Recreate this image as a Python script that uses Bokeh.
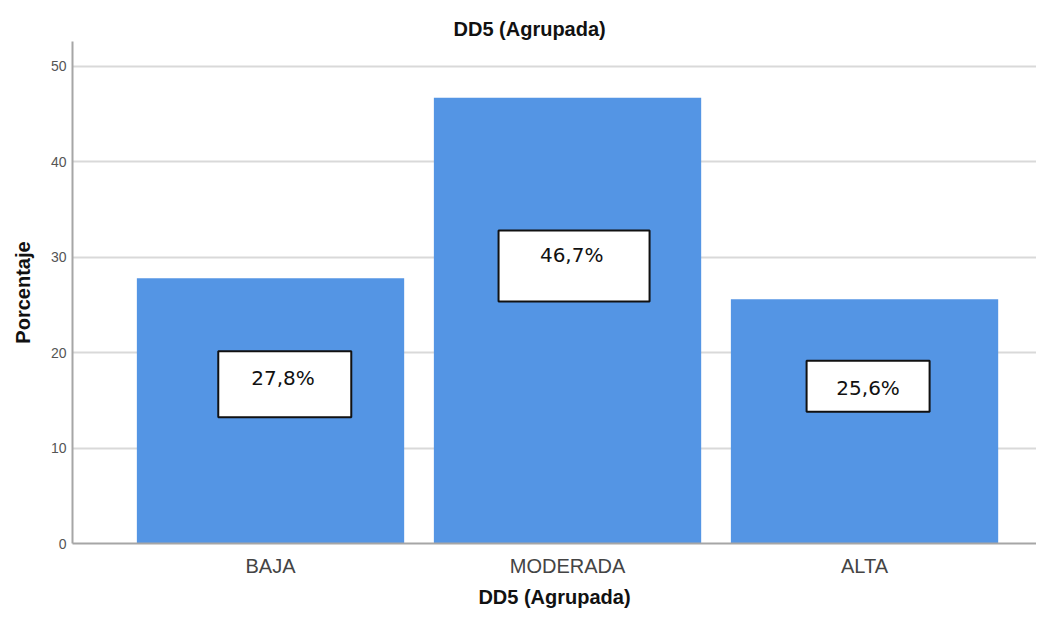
from bokeh.plotting import figure
from bokeh.models import ColumnDataSource, Range1d, SingleIntervalTicker
from bokeh.core.properties import value
from bokeh.embed import file_html
from bokeh.resources import INLINE

# ---- data ----
categories = ["BAJA", "MODERADA", "ALTA"]
percentages = [27.8, 46.7, 25.6]
y_ticks = [0, 10, 20, 30, 40, 50]

# ---- label box layout (placement only) ----
box_dx = [0.048, 0.022, 0.012]
box_y = [16.68, 29.07, 16.47]
box_w = [133, 151, 123]
box_h = [66, 71, 51]
text_dx = [0.042, 0.014, 0.012]
text_y = [17.38, 30.24, 16.32]

xs = list(range(len(categories)))
labels = [f"{v:.1f}%".replace(".", ",") for v in percentages]

bar_src = ColumnDataSource(dict(x=xs, top=percentages))
box_src = ColumnDataSource(dict(
    x=[xi + d for xi, d in zip(xs, box_dx)], y=box_y, w=box_w, h=box_h))
txt_src = ColumnDataSource(dict(
    x=[xi + d for xi, d in zip(xs, text_dx)], y=text_y, t=labels))

p = figure(width=1036, height=602, frame_width=964, frame_height=502,
           output_backend="svg", toolbar_location=None,
           x_range=Range1d(-0.6667, 2.579), y_range=Range1d(0, 52.6),
           min_border_left=72, min_border_right=0, min_border_top=41,
           min_border_bottom=0, title="DD5 (Agrupada)")

p.outline_line_color = None
p.background_fill_color = "white"
p.border_fill_color = "white"

# title
p.title.text_font = "Liberation Sans"
p.title.text_font_size = "20px"
p.title.text_font_style = "bold"
p.title.text_color = "#111111"
p.title.align = "left"
p.title.offset = 381
p.title.standoff = 4

# bars
p.vbar(x="x", top="top", width=0.9, bottom=0, source=bar_src,
       fill_color="#5495e4", line_color=None)

# label boxes
p.rect(x="x", y="y", width="w", height="h", width_units="screen",
       height_units="screen", source=box_src, fill_color="white",
       line_color="#111111", line_width=2)
p.text(x="x", y="y", text="t", source=txt_src, text_align="center",
       text_baseline="middle", text_font=value("DejaVu Sans"),
       text_font_size="20px", text_color="#111111")

# y axis
p.yaxis.ticker = SingleIntervalTicker(interval=10, num_minor_ticks=0)
p.yaxis.axis_label = "Porcentaje"
p.yaxis.axis_label_text_font = "Liberation Sans"
p.yaxis.axis_label_text_font_size = "20px"
p.yaxis.axis_label_text_font_style = "bold"
p.yaxis.axis_label_text_color = "#111111"
p.yaxis.axis_label_standoff = 14
p.yaxis.major_label_text_font = "Liberation Sans"
p.yaxis.major_label_text_font_size = "14px"
p.yaxis.major_label_text_color = "#555555"
p.yaxis.major_label_standoff = 6
p.yaxis.major_tick_line_color = None
p.yaxis.minor_tick_line_color = None
p.yaxis.major_tick_out = 0
p.yaxis.axis_line_color = "#a6a6a6"
p.yaxis.axis_line_width = 2

# x axis
p.xaxis.ticker = xs
p.xaxis.major_label_overrides = {i: c for i, c in zip(xs, categories)}
p.xaxis.axis_label = "DD5 (Agrupada)"
p.xaxis.axis_label_text_font = "Liberation Sans"
p.xaxis.axis_label_text_font_size = "20px"
p.xaxis.axis_label_text_font_style = "bold"
p.xaxis.axis_label_text_color = "#111111"
p.xaxis.axis_label_standoff = 6
p.xaxis.major_label_text_font = "Liberation Sans"
p.xaxis.major_label_text_font_size = "20px"
p.xaxis.major_label_text_color = "#444444"
p.xaxis.major_label_standoff = 11
p.xaxis.major_tick_line_color = None
p.xaxis.minor_tick_line_color = None
p.xaxis.major_tick_out = 0
p.xaxis.axis_line_color = "#a6a6a6"
p.xaxis.axis_line_width = 2

# grid
p.xgrid.grid_line_color = None
p.ygrid.grid_line_color = "#d9d9d9"
p.ygrid.grid_line_width = 2

open("out.html", "w").write(file_html(p, INLINE))
